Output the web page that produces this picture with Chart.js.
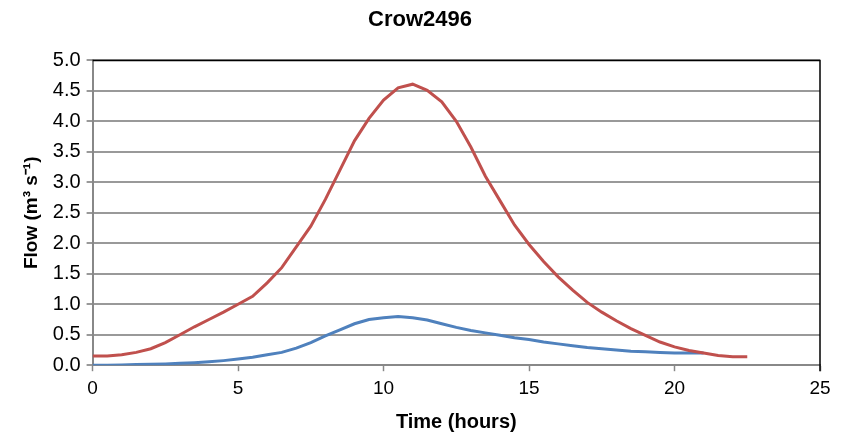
<!DOCTYPE html>
<html>
<head>
<meta charset="utf-8">
<script src="https://cdn.jsdelivr.net/npm/chart.js@4/dist/chart.umd.min.js"></script>
<style>
  body { margin: 0; background: white; }
  #wrap { width: 850px; height: 443px; }
</style>
</head>
<body>
<div id="wrap"><canvas id="flowChart" width="850" height="443"></canvas></div>
<script>
// hours, every half hour
const redTime = [0, 0.5, 1, 1.5, 2, 2.5, 3, 3.5, 4, 4.5, 5, 5.5, 6, 6.5, 7, 7.5, 8, 8.5, 9, 9.5, 10, 10.5, 11, 11.5,
  12, 12.5, 13, 13.5, 14, 14.5, 15, 15.5, 16, 16.5, 17, 17.5, 18, 18.5, 19, 19.5, 20, 20.5, 21, 21.5, 22, 22.5];
const redFlow = [0.15, 0.15, 0.17, 0.21, 0.27, 0.37, 0.5, 0.63, 0.75, 0.87, 1.0, 1.13, 1.35, 1.6, 1.94, 2.28, 2.72, 3.2,
  3.68, 4.05, 4.35, 4.55, 4.61, 4.51, 4.32, 4.0, 3.58, 3.1, 2.7, 2.3, 1.98, 1.7, 1.45, 1.23, 1.03, 0.87, 0.73, 0.6,
  0.49, 0.38, 0.3, 0.24, 0.2, 0.16, 0.14, 0.14];

const blueTime = [0, 0.5, 1, 1.5, 2, 2.5, 3, 3.5, 4, 4.5, 5, 5.5, 6, 6.5, 7, 7.5, 8, 8.5, 9, 9.5, 10, 10.5, 11, 11.5,
  12, 12.5, 13, 13.5, 14, 14.5, 15, 15.5, 16, 16.5, 17, 17.5, 18, 18.5, 19, 19.5, 20, 20.5, 21];
const blueFlow = [0.0, 0.0, 0.005, 0.01, 0.015, 0.02, 0.03, 0.04, 0.055, 0.075, 0.1, 0.13, 0.17, 0.21, 0.28, 0.37,
  0.48, 0.58, 0.68, 0.75, 0.78, 0.8, 0.78, 0.74, 0.68, 0.62, 0.57, 0.53, 0.49, 0.45, 0.42, 0.38, 0.35, 0.32, 0.29,
  0.27, 0.25, 0.23, 0.22, 0.21, 0.2, 0.2, 0.2];

const xTicks = [0, 5, 10, 15, 20, 25];

const toPoints = (xs, ys) => xs.map((x, i) => ({ x: x, y: ys[i] }));

// black frame on top and right of plot area
const frame = {
  id: 'frame',
  afterDraw(chart) {
    const a = chart.chartArea, c = chart.ctx;
    c.save();
    c.strokeStyle = '#000';
    c.lineWidth = 1.5;
    c.beginPath();
    c.moveTo(a.left, a.top);
    c.lineTo(a.right, a.top);
    c.lineTo(a.right, a.bottom + 6);
    c.stroke();
    c.restore();
  }
};

const ctx = document.getElementById('flowChart').getContext('2d');
new Chart(ctx, {
  type: 'line',
  data: {
    datasets: [
      {
        data: toPoints(redTime, redFlow),
        borderColor: '#C0504D',
        borderWidth: 3,
        pointRadius: 0,
        tension: 0,
        fill: false
      },
      {
        data: toPoints(blueTime, blueFlow),
        borderColor: '#4F81BD',
        borderWidth: 3,
        pointRadius: 0,
        tension: 0,
        fill: false
      }
    ]
  },
  options: {
    responsive: false,
    animation: false,
    events: [],
    layout: { padding: { top: 4, right: 30, left: 20, bottom: 9 } },
    plugins: {
      legend: { display: false },
      tooltip: { enabled: false },
      title: {
        display: true,
        text: 'Crow2496',
        color: '#000',
        font: { family: 'Liberation Sans, Arial', size: 22, weight: 'bold' },
        padding: { top: 3, bottom: 27 }
      }
    },
    scales: {
      x: {
        type: 'linear',
        min: 0,
        max: 25,
        afterBuildTicks(axis) { axis.ticks = xTicks.map(v => ({ value: v })); },
        grid: { drawOnChartArea: false, color: '#888', tickLength: 6, tickWidth: 1.5 },
        border: { color: '#888', width: 2 },
        ticks: {
          color: '#000',
          font: { family: 'Liberation Sans, Arial', size: 19 },
          padding: 6,
          maxRotation: 0
        },
        title: {
          display: true,
          text: 'Time (hours)',
          color: '#000',
          font: { family: 'Liberation Sans, Arial', size: 20, weight: 'bold' },
          padding: { top: 4, bottom: 0 }
        }
      },
      y: {
        min: 0,
        max: 5,
        ticks: {
          stepSize: 0.5,
          color: '#000',
          font: { family: 'Liberation Sans, Arial', size: 20 },
          padding: 6,
          callback: v => v.toFixed(1)
        },
        grid: { color: '#999', lineWidth: 2, tickLength: 6 },
        border: { color: '#888', width: 2 },
        title: {
          display: true,
          text: 'Flow (m³ s⁻¹)',
          color: '#000',
          font: { family: 'Liberation Sans, Arial', size: 19, weight: 'bold' },
          padding: { top: 0, bottom: 4 }
        }
      }
    }
  },
  plugins: [frame]
});
</script>
</body>
</html>
